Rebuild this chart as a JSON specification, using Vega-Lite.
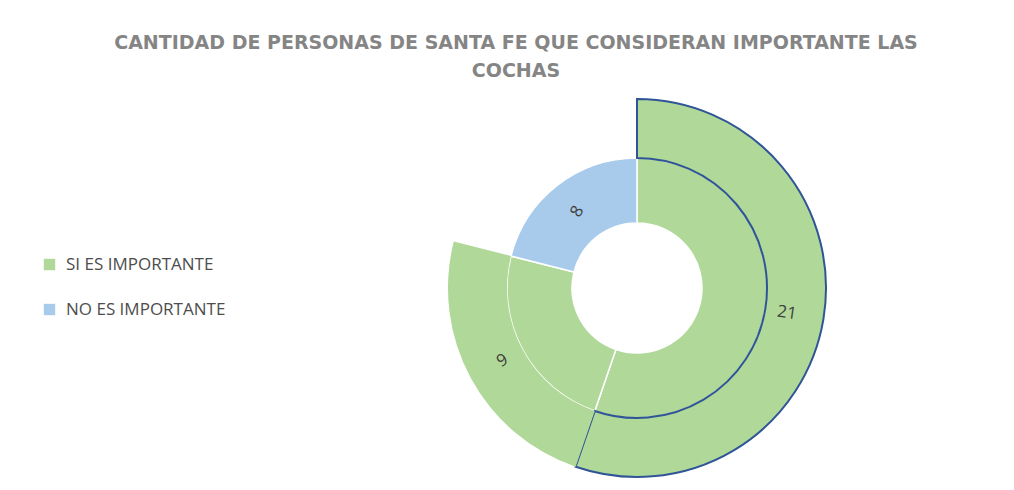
{
  "$schema": "https://vega.github.io/schema/vega-lite/v6.json",
  "autosize": {"type": "none"},
  "width": 600,
  "height": 336,
  "padding": {"left": 337, "top": 120, "right": 0, "bottom": 34},
  "background": "white",
  "title": {
    "text": ["CANTIDAD DE PERSONAS DE SANTA FE QUE CONSIDERAN IMPORTANTE LAS", "COCHAS"],
    "anchor": "middle",
    "dx": -121,
    "offset": 14,
    "font": "DejaVu Sans",
    "fontSize": 19,
    "fontWeight": "bold",
    "color": "#858585",
    "lineHeight": 28
  },
  "data": {
    "values": [
      {"categoria": "SI ES IMPORTANTE", "valor": 21},
      {"categoria": "SI ES IMPORTANTE", "valor": 9},
      {"categoria": "NO ES IMPORTANTE", "valor": 8}
    ]
  },
  "encoding": {
    "theta": {"field": "valor", "type": "quantitative", "stack": true},
    "order": {"field": "valor", "type": "quantitative", "sort": "descending"}
  },
  "layer": [
    {
      "mark": {"type": "arc", "innerRadius": 65, "outerRadius": 130, "stroke": "white", "strokeWidth": 1.5},
      "encoding": {
        "color": {
          "field": "categoria",
          "type": "nominal",
          "scale": {"domain": ["SI ES IMPORTANTE", "NO ES IMPORTANTE"], "range": ["#b0d898", "#a8cbec"]},
          "legend": {
            "title": null,
            "orient": "none",
            "legendX": -296,
            "legendY": 136,
            "symbolType": "square",
            "symbolSize": 130,
            "symbolStrokeWidth": 0,
            "labelFont": "Open Sans",
            "labelFontSize": 17,
            "labelColor": "#4d4d4d",
            "labelOffset": 8,
            "rowPadding": 27
          }
        }
      }
    },
    {
      "mark": {"type": "arc", "innerRadius": 130, "outerRadius": 189, "stroke": "#2f5597", "strokeWidth": 2},
      "encoding": {
        "color": {
          "field": "categoria",
          "type": "nominal",
          "scale": {"domain": ["SI ES IMPORTANTE", "NO ES IMPORTANTE"], "range": ["#b0d898", "#a8cbec"]},
          "legend": null
        },
        "opacity": {"condition": {"test": "datum.categoria === 'NO ES IMPORTANTE'", "value": 0}, "value": 1},
        "strokeOpacity": {"condition": {"test": "datum.valor === 21", "value": 1}, "value": 0}
      }
    },
    {
      "mark": {"type": "text", "radius": 152, "angle": 8, "font": "Open Sans", "fontSize": 17, "color": "#404040"},
      "encoding": {
        "text": {"field": "valor", "type": "quantitative"},
        "opacity": {"condition": {"test": "datum.valor === 21", "value": 1}, "value": 0}
      }
    },
    {
      "mark": {"type": "text", "radius": 153, "angle": -30, "font": "Open Sans", "fontSize": 17, "color": "#404040"},
      "encoding": {
        "text": {"field": "valor", "type": "quantitative"},
        "opacity": {"condition": {"test": "datum.valor === 9", "value": 1}, "value": 0}
      }
    },
    {
      "mark": {"type": "text", "radius": 97, "angle": -60, "font": "Open Sans", "fontSize": 17, "color": "#404040"},
      "encoding": {
        "text": {"field": "valor", "type": "quantitative"},
        "opacity": {"condition": {"test": "datum.valor === 8", "value": 1}, "value": 0}
      }
    }
  ]
}
